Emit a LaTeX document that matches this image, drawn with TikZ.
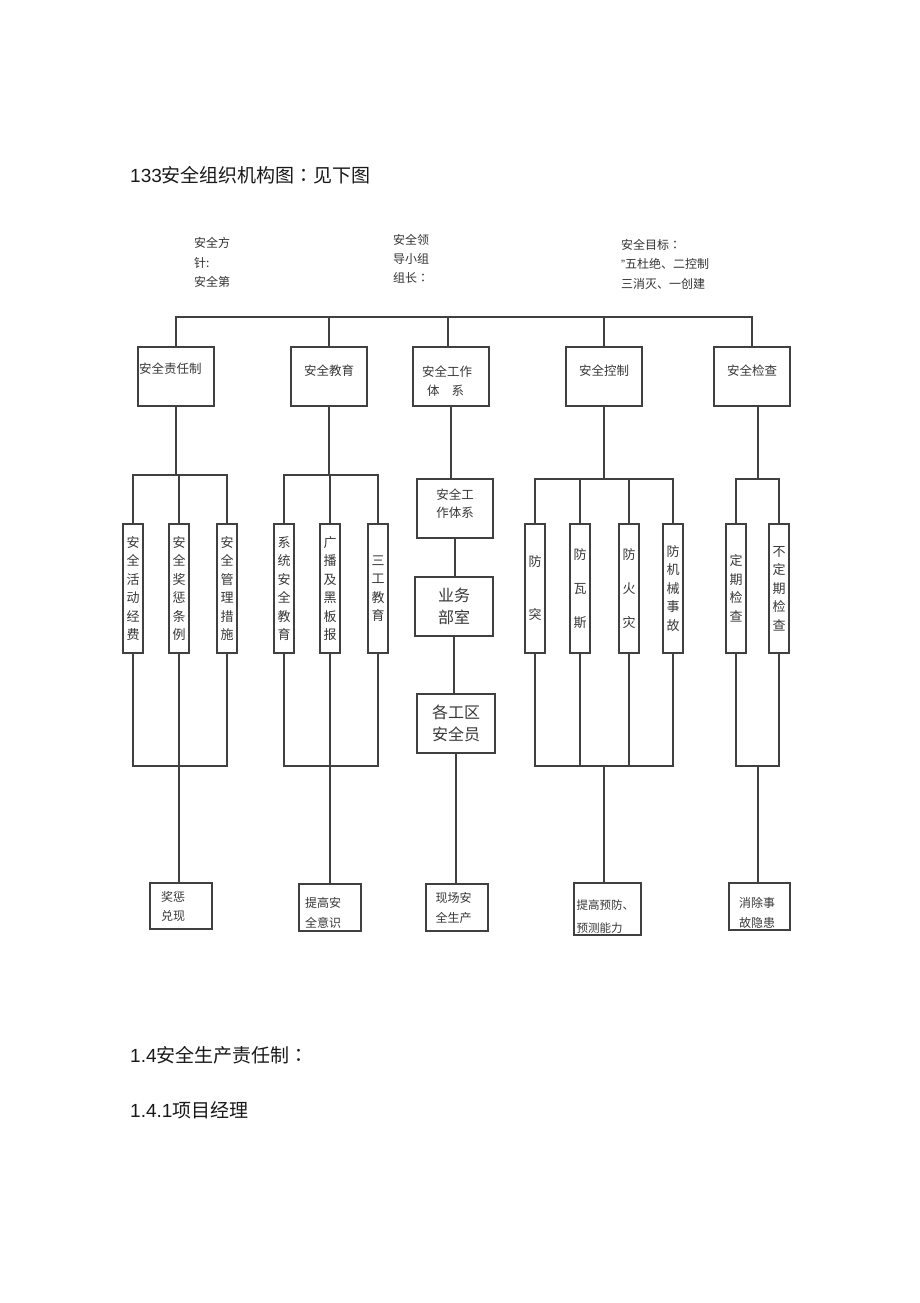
\documentclass[tikz,border=0pt]{standalone}
\usepackage{fontspec}
\setmainfont{Liberation Sans}
\newfontfamily\cjk{Noto Sans CJK SC}
\newfontfamily\cjkp{Noto Sans CJK TC}
\begin{document}
\begin{tikzpicture}[x=1pt,y=-1pt,
  ln/.style={line width=1.4pt,draw=black!75},
  bx/.style={draw=black!75,line width=1.4pt,inner sep=0pt,align=center,text=black!78,font=\cjk\fontsize{12.5}{19}\selectfont},
  vbx/.style={bx,minimum width=20pt,minimum height=129pt,font=\cjk\fontsize{13}{18.5}\selectfont},
  cbx/.style={bx,align=left,font=\cjk\fontsize{12}{20}\selectfont},
  tx/.style={inner sep=0pt,anchor=west,align=left,text=black!80,font=\cjk\fontsize{12}{19.5}\selectfont},
  hd/.style={inner sep=0pt,anchor=west,text=black!90,font=\fontsize{19}{22}\selectfont}
]
\useasboundingbox[fill=white] (0,0) rectangle (920,1303);

% headings and top texts
\node[hd] (title) at (130,175) {133{\cjk 安全组织机构图}{\cjkp ：}{\cjk 见下图}};
\node[tx] (fz) at (194,262.5) {安全方\\针:\\安全第};
\node[tx,font=\cjk\fontsize{12}{19}\selectfont] (ld) at (393,259) {安全领\\导小组\\组长{\cjkp ：}};
\node[tx] (mb) at (621,264) {安全目标{\cjkp ：}\\{\rmfamily"}五杜绝、二控制\\三消灭、一创建};
\node[hd] (h14) at (130,1055) {1.4{\cjk 安全生产责任制}{\cjkp ：}};
\node[hd] (h141) at (130,1110) {1.4.1{\cjk 项目经理}};

% first row
\node[bx,minimum width=76pt,minimum height=59pt,text width=74pt,align=left,text depth=16pt] (a1) at (176,376.5) {安全责任制};
\node[bx,minimum width=76pt,minimum height=59pt,text depth=12.5pt] (a2) at (329,376.5) {安全教育};
\node[bx,minimum width=76pt,minimum height=59pt,text width=58pt,align=left,text depth=11.5pt] (a3) at (451,376.5) {安全工作\\\hspace*{5pt}体\hspace{12pt}系};
\node[bx,minimum width=76pt,minimum height=59pt,text depth=12.5pt] (a4) at (604,376.5) {安全控制};
\node[bx,minimum width=76pt,minimum height=59pt,text depth=12.5pt] (a5) at (752,376.5) {安全检查};

% column 3 chain
\node[bx,minimum width=76pt,minimum height=59pt,font=\cjk\fontsize{12.5}{18}\selectfont,text depth=10.5pt] (b1) at (455,508.5) {安全工\\作体系};
\node[bx,minimum width=78pt,minimum height=59pt,font=\cjk\fontsize{16}{22}\selectfont] (b2) at (454,606.5) {业务\\部室};
\node[bx,minimum width=78pt,minimum height=59pt,font=\cjk\fontsize{16}{22}\selectfont] (b3) at (456,723.5) {各工区\\安全员};

% vertical boxes
\node[vbx] (v11) at (133,588.5) {安\\全\\活\\动\\经\\费};
\node[vbx] (v12) at (179,588.5) {安\\全\\奖\\惩\\条\\例};
\node[vbx] (v13) at (227,588.5) {安\\全\\管\\理\\措\\施};
\node[vbx] (v21) at (284,588.5) {系\\统\\安\\全\\教\\育};
\node[vbx] (v22) at (330,588.5) {广\\播\\及\\黑\\板\\报};
\node[vbx] (v23) at (378,588.5) {三\\工\\教\\育};
\node[vbx,font=\cjk\fontsize{13}{53}\selectfont] (v41) at (535,588.5) {防\\突};
\node[vbx,font=\cjk\fontsize{13}{34}\selectfont] (v42) at (580,588.5) {防\\瓦\\斯};
\node[vbx,font=\cjk\fontsize{13}{34}\selectfont] (v43) at (629,588.5) {防\\火\\灾};
\node[vbx] (v44) at (673,588.5) {防\\机\\械\\事\\故};
\node[vbx] (v51) at (736,588.5) {定\\期\\检\\查};
\node[vbx] (v52) at (779,588.5) {不\\定\\期\\检\\查};

% bottom boxes
\node[cbx,minimum width=62pt,minimum height=46pt,text width=40pt,font=\cjk\fontsize{12}{19}\selectfont] (c1) at (181,906) {奖惩\\兑现};
\node[cbx,minimum width=62pt,minimum height=47pt,text width=50pt,text depth=10.5pt] (c2) at (330,907.5) {提高安\\全意识};
\node[cbx,minimum width=62pt,minimum height=47pt,text width=43pt] (c3) at (457,907.5) {现场安\\全生产};
\node[cbx,minimum width=67pt,minimum height=52pt,text width=62pt,text depth=8.3pt,font=\cjk\fontsize{11.5}{23}\selectfont] (c4) at (607.5,909) {提高预防、\\预测能力};
\node[cbx,minimum width=61pt,minimum height=47pt,text width=41pt,text depth=8.5pt] (c5) at (759.5,906.5) {消除事\\故隐患};

% helper coordinates
\coordinate (bus) at (0,317);
\coordinate (t1) at (0,475);
\coordinate (t2) at (0,479);
\coordinate (u) at (0,766);
\coordinate (x5) at (758,0);

% top bus
\draw[ln] (a1.north) |- (bus -| a5.north) -- (a5.north);
\draw[ln] (a2.north) -- (a2.north |- bus);
\draw[ln] ([xshift=-3pt]a3.north) -- ([xshift=-3pt]a3.north |- bus);
\draw[ln] (a4.north) -- (a4.north |- bus);

% column 1
\draw[ln] (a1.south) -- (a1.south |- t1);
\draw[ln] (v11.north) |- (t1 -| v13.north) -- (v13.north);
\draw[ln] (v12.north) -- (v12.north |- t1);
\draw[ln] (v11.south) |- (u -| v13.south) -- (v13.south);
\draw[ln] (v12.south) -- (v12.south |- c1.north);

% column 2
\draw[ln] (a2.south) -- (a2.south |- t1);
\draw[ln] (v21.north) |- (t1 -| v23.north) -- (v23.north);
\draw[ln] (v22.north) -- (v22.north |- t1);
\draw[ln] (v21.south) |- (u -| v23.south) -- (v23.south);
\draw[ln] (v22.south) -- (v22.south |- c2.north);

% column 3
\draw[ln] (a3.south) -- (a3.south |- b1.north);
\draw[ln] (b1.south) -- (b1.south |- b2.north);
\draw[ln] (b2.south) -- (b2.south |- b3.north);
\draw[ln] (b3.south) -- (b3.south |- c3.north);

% column 4
\draw[ln] (a4.south) -- (a4.south |- t2);
\draw[ln] (v41.north) |- (t2 -| v44.north) -- (v44.north);
\draw[ln] (v42.north) -- (v42.north |- t2);
\draw[ln] (v43.north) -- (v43.north |- t2);
\draw[ln] (v41.south) |- (u -| v44.south) -- (v44.south);
\draw[ln] (v42.south) -- (v42.south |- u);
\draw[ln] (v43.south) -- (v43.south |- u);
\draw[ln] (a4.south |- u) -- (a4.south |- c4.north);

% column 5
\draw[ln] (x5 |- a5.south) -- (x5 |- t2);
\draw[ln] (v51.north) |- (t2 -| v52.north) -- (v52.north);
\draw[ln] (v51.south) |- (u -| v52.south) -- (v52.south);
\draw[ln] (x5 |- u) -- (x5 |- c5.north);
\end{tikzpicture}
\end{document}
